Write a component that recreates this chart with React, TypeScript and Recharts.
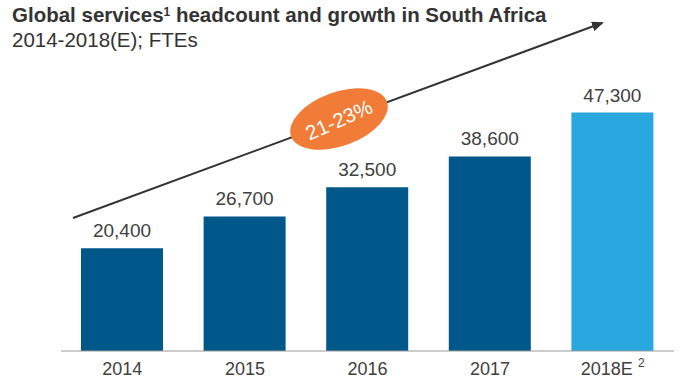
import { BarChart, Bar, XAxis, YAxis, Cell, LabelList } from "recharts"

const years = ["2014", "2015", "2016", "2017", "2018E"]
const headcount = [20400, 26700, 32500, 38600, 47300]
const estimated = [false, false, false, false, true]

const data = years.map((year, i) => ({ year, headcount: headcount[i], estimated: estimated[i] }))

const FONT = "'Liberation Sans', Arial, sans-serif"

function YearTick(props: any) {
    const { x, y, payload } = props
    const isEst = payload.value === "2018E"
    return (
        <text x={x} y={y + 16} textAnchor="middle" fill="#404040" fontSize={18} fontFamily={FONT}>
            {payload.value}
            {isEst && (
                <tspan dx={5} dy={-8} fontSize={12}>
                    2
                </tspan>
            )}
        </text>
    )
}

export default function App() {
    return (
        <div style={{ position: "absolute", top: 0, left: 0, width: 695, height: 390, background: "#fff", fontFamily: FONT }}>
            <div style={{ position: "absolute", left: 12, top: 2, color: "#333", lineHeight: "25px" }}>
                <div style={{ fontSize: 20.5, fontWeight: "bold" }}>
                    Global services<sup style={{ fontSize: 12, verticalAlign: "top", lineHeight: "20px" }}>1</sup> headcount and growth in South Africa
                </div>
                <div style={{ fontSize: 20.5 }}>2014-2018(E); FTEs</div>
            </div>
            <BarChart
                width={695}
                height={390}
                data={data}
                margin={{ top: 99, right: 21, left: 61, bottom: 9 }}
            >
                <XAxis
                    dataKey="year"
                    height={30}
                    tickLine={false}
                    axisLine={{ stroke: "#9a9a9a" }}
                    tick={<YearTick />}
                    interval={0}
                />
                <YAxis hide domain={[0, 50000]} />
                <Bar dataKey="headcount" barSize={82} isAnimationActive={false}>
                    {data.map((d) => (
                        <Cell key={d.year} fill={d.estimated ? "#29a8e0" : "#00578a"} />
                    ))}
                    <LabelList
                        dataKey="headcount"
                        position="top"
                        offset={11}
                        formatter={(v: any) => Number(v).toLocaleString("en-US")}
                        style={{ fill: "#404040", fontSize: 19, fontFamily: FONT }}
                    />
                </Bar>
            </BarChart>
            <svg width={695} height={390} style={{ position: "absolute", top: 0, left: 0, pointerEvents: "none" }}>
                <defs>
                    <marker id="head" markerWidth="12" markerHeight="10" refX="10" refY="5" orient="auto" markerUnits="userSpaceOnUse">
                        <path d="M0,0 L12,5 L0,10 z" fill="#333" />
                    </marker>
                </defs>
                <line x1={73} y1={218} x2={602} y2={23} stroke="#333" strokeWidth={2} markerEnd="url(#head)" />
                <g transform="translate(339,119) rotate(-20)">
                    <ellipse cx={0} cy={0} rx={51} ry={27} fill="#f07c38" />
                </g>
                <g transform="translate(339,120) rotate(-24)">
                    <text x={0} y={7} textAnchor="middle" fill="#fff" fontSize={20.5} fontFamily={FONT}>
                        21-23%
                    </text>
                </g>
            </svg>
        </div>
    )
}
